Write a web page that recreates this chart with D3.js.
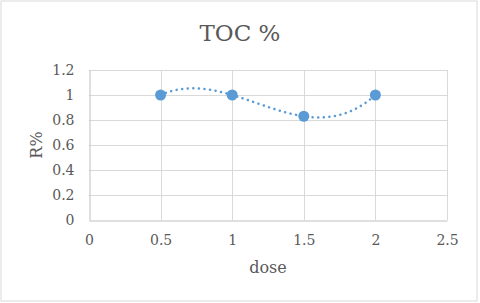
<!DOCTYPE html>
<html lang="en">
<head>
<meta charset="UTF-8">
<title>TOC %</title>
<script src="https://cdn.jsdelivr.net/npm/d3@7"></script>
<style>
    body { margin: 0; background: #fff; }
    svg { display: block; }
    .tick text { font-family: "DejaVu Serif", serif; font-size: 14px; fill: #595959; }
    .label { font-family: "DejaVu Serif", serif; fill: #595959; }
</style>
</head>
<body>
<script>
    // Data
    const dose = [0.5, 1, 1.5, 2];
    const rPct = [1, 1, 0.83, 1];
    const xTicks = [0, 0.5, 1, 1.5, 2, 2.5];
    const yTicks = [0, 0.2, 0.4, 0.6, 0.8, 1, 1.2];

    const width = 480, height = 303;
    const margins = { top: 70, bottom: 83, left: 89, right: 33 };

    // smooth curve through all points (polynomial tangents, like the office smoothed line)
    function curveSmooth(context) {
        let pts = [];
        return {
            areaStart() {}, areaEnd() {},
            lineStart() { pts = []; },
            point(x, y) { pts.push([+x, +y]); },
            lineEnd() {
                const n = pts.length;
                if (!n) return;
                const deriv = pts.map((pj, j) => {
                    let s = 0;
                    pts.forEach((pi, i) => {
                        let li;
                        if (i === j) {
                            li = 0;
                            pts.forEach((pk, k) => { if (k !== j) li += 1 / (pj[0] - pk[0]); });
                        } else {
                            let num = 1, den = 1;
                            pts.forEach((pk, k) => {
                                if (k !== i) den *= (pi[0] - pk[0]);
                                if (k !== i && k !== j) num *= (pj[0] - pk[0]);
                            });
                            li = num / den;
                        }
                        s += pi[1] * li;
                    });
                    return s;
                });
                context.moveTo(pts[0][0], pts[0][1]);
                for (let j = 0; j < n - 1; j++) {
                    const a = pts[j], b = pts[j + 1], h = (b[0] - a[0]) / 3;
                    context.bezierCurveTo(a[0] + h, a[1] + deriv[j] * h,
                        b[0] - h, b[1] - deriv[j + 1] * h, b[0], b[1]);
                }
            }
        };
    }

    const svg = d3.select("body").append("svg")
        .attr("width", width)
        .attr("height", height);

    // chart border
    svg.append("rect")
        .attr("x", 1).attr("y", 1)
        .attr("width", 476).attr("height", 300)
        .attr("fill", "#fff")
        .attr("stroke", "#d9d9d9")
        .attr("stroke-width", 1);

    const xScale = d3.scaleLinear().domain([0, 2.5]).range([margins.left, width - margins.right]);
    const yScale = d3.scaleLinear().domain([0, 1.2]).range([height - margins.bottom, margins.top]);

    // gridlines
    svg.append("g")
        .selectAll("line")
        .data(yTicks.slice(1))
        .enter().append("line")
        .attr("x1", margins.left).attr("x2", width - margins.right)
        .attr("y1", d => Math.round(yScale(d)) + 0.5).attr("y2", d => Math.round(yScale(d)) + 0.5)
        .attr("stroke", "#d9d9d9");
    svg.append("g")
        .selectAll("line")
        .data(xTicks.slice(1))
        .enter().append("line")
        .attr("y1", margins.top).attr("y2", height - margins.bottom)
        .attr("x1", d => Math.round(xScale(d)) + 0.5).attr("x2", d => Math.round(xScale(d)) + 0.5)
        .attr("stroke", "#d9d9d9");

    // axes
    const xAxis = d3.axisBottom(xScale).tickValues(xTicks).tickSize(0).tickPadding(15).tickFormat(d3.format("~g"));
    const yAxis = d3.axisLeft(yScale).tickValues(yTicks).tickSize(0).tickPadding(15).tickFormat(d3.format("~g"));

    svg.append("g")
        .attr("transform", `translate(0,${Math.round(yScale(0)) + 0.5})`)
        .call(xAxis)
        .call(g => g.select(".domain").attr("stroke", "#bfbfbf"));
    svg.append("g")
        .attr("transform", `translate(${Math.round(xScale(0)) + 0.5},0)`)
        .call(yAxis)
        .call(g => g.select(".domain").attr("stroke", "#bfbfbf"));

    // smoothed dotted line
    const pts = dose.map((d, i) => [d, rPct[i]]);
    const lineGen = d3.line()
        .x(d => xScale(d[0]))
        .y(d => yScale(d[1]))
        .curve(curveSmooth);
    svg.append("path")
        .datum(pts)
        .attr("d", lineGen)
        .attr("fill", "none")
        .attr("stroke", "#5b9bd5")
        .attr("stroke-width", 2.5)
        .attr("stroke-linecap", "round")
        .attr("stroke-dasharray", "0.1 5.5");

    // markers
    svg.append("g")
        .selectAll("circle")
        .data(pts)
        .enter().append("circle")
        .attr("cx", d => xScale(d[0]))
        .attr("cy", d => yScale(d[1]))
        .attr("r", 5.5)
        .attr("fill", "#5b9bd5");

    // Chart Title
    svg.append("text")
        .attr("class", "label")
        .attr("x", 240).attr("y", 41)
        .attr("text-anchor", "middle")
        .style("font-size", "23px")
        .text("TOC %");
    // X-Axis Title
    svg.append("text")
        .attr("class", "label")
        .attr("x", (margins.left + width - margins.right) / 2).attr("y", 273)
        .attr("text-anchor", "middle")
        .style("font-size", "16px")
        .text("dose");
    // Y-Axis Title
    svg.append("text")
        .attr("class", "label")
        .attr("transform", `translate(42,${(margins.top + height - margins.bottom) / 2}) rotate(-90)`)
        .attr("text-anchor", "middle")
        .style("font-size", "16px")
        .text("R%");
</script>
</body>
</html>
